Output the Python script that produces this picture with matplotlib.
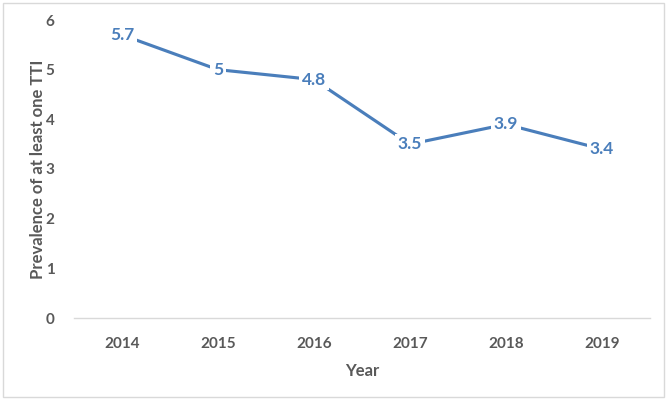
import matplotlib
matplotlib.use("Agg")
import matplotlib.pyplot as plt
from matplotlib.patches import Rectangle

years = ["2014", "2015", "2016", "2017", "2018", "2019"]
prevalence = [5.7, 5.0, 4.8, 3.5, 3.9, 3.4]
value_labels = ["5.7", "5", "4.8", "3.5", "3.9", "3.4"]
y_ticks = [0, 1, 2, 3, 4, 5, 6]

blue = "#4A7EBB"
gray = "#595959"

plt.rcParams['font.family'] = ['Lato', 'DejaVu Sans']

fig = plt.figure(figsize=(6.68, 4.0), dpi=100)
# chart frame like the Excel chart area
fig.patches.append(Rectangle((3 / 668, 3 / 400), 661 / 668, 394 / 400,
                             transform=fig.transFigure, fill=False,
                             edgecolor="#D9D9D9", linewidth=1.0))

ax = fig.add_axes([74 / 668, 82 / 400, 576 / 668, 298 / 400])
x = list(range(len(years)))
ax.plot(x, prevalence, color=blue, linewidth=2.25, solid_capstyle="round", zorder=2)

for xi, yi, lab in zip(x, prevalence, value_labels):
    ax.text(xi, yi, lab, ha="center", va="center", fontsize=12.5, fontweight="bold",
            color=blue, zorder=3,
            bbox=dict(boxstyle="square,pad=0.15", facecolor="white", edgecolor="none"))

ax.set_xlim(-0.5, len(years) - 0.5)
ax.set_ylim(0, 6)
ax.set_xticks(x)
ax.set_xticklabels(years)
ax.set_yticks(y_ticks)
ax.tick_params(axis="both", length=0, labelsize=11, labelcolor=gray)
ax.tick_params(axis="x", pad=14)
ax.tick_params(axis="y", pad=14)
for lbl in ax.get_xticklabels() + ax.get_yticklabels():
    lbl.set_fontweight("bold")

for side in ["top", "right", "left"]:
    ax.spines[side].set_visible(False)
ax.spines["bottom"].set_color("#D9D9D9")
ax.spines["bottom"].set_linewidth(1.0)

ax.set_xlabel("Year", fontsize=12, fontweight="bold", color=gray, labelpad=8)
ax.set_ylabel("Prevalence of at least one TTI", fontsize=12, fontweight="bold",
              color=gray, labelpad=0)

fig.savefig("out.png", dpi=100)
